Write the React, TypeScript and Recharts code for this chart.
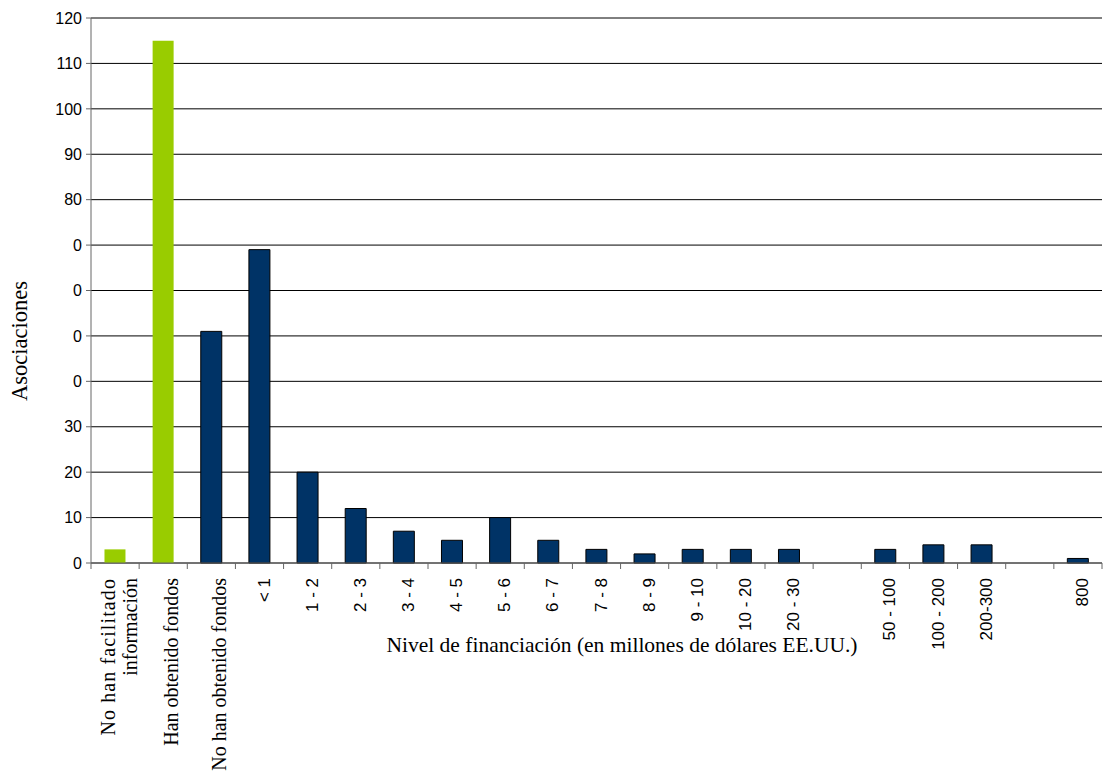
import React from 'react';
import { BarChart, Bar, XAxis, YAxis, CartesianGrid, Cell } from 'recharts';

const categories = [
  'No han facilitado información',
  'Han obtenido fondos',
  'No han obtenido fondos',
  '< 1',
  '1 - 2',
  '2 - 3',
  '3 - 4',
  '4 - 5',
  '5 - 6',
  '6 - 7',
  '7 - 8',
  '8 - 9',
  '9 - 10',
  '10 - 20',
  '20 - 30',
  '',
  '50 - 100',
  '100 - 200',
  '200-300',
  '',
  '800',
];
const associations = [3, 115, 51, 69, 20, 12, 7, 5, 10, 5, 3, 2, 3, 3, 3, 0, 3, 4, 4, 0, 1];
const greenBars = [0, 1];
const yTicks = [0, 10, 20, 30, 40, 50, 60, 70, 80, 90, 100, 110, 120];
const yTickLabels = ['0', '10', '20', '30', '0', '0', '0', '0', '80', '90', '100', '110', '120'];
const serifLabels = [0, 1, 2];

const W = 1104;
const H = 774;
const LEFT = 91;
const RIGHT = 2;
const TOP = 18;
const AXIS_Y = 563;
const STEP = (W - LEFT - RIGHT) / categories.length;

const data = associations.map((v, i) => ({ id: i, value: v }));

const SANS = '"Liberation Sans", Arial, sans-serif';
const SERIF = '"Liberation Serif", "Times New Roman", serif';

function CategoryTick(props: any) {
  const { x, payload } = props;
  const i = payload.value as number;
  const label = categories[i];
  const y0 = AXIS_Y;
  const serif = serifLabels.includes(i);
  const lines = i === 0 ? ['No han facilitado', 'información'] : [label];
  return (
    <g>
      <line x1={x - STEP / 2} x2={x - STEP / 2} y1={y0} y2={y0 + 6} stroke="#666" />
      {i === categories.length - 1 && (
        <line x1={x + STEP / 2} x2={x + STEP / 2} y1={y0} y2={y0 + 6} stroke="#666" />
      )}
      {lines.map((t, k) => {
        // baseline sits on the right of the rotated glyphs
        const bx = serif ? x + (lines.length > 1 ? k * 22 : 15) : x + 10;
        const by = y0 + 15;
        return (
          <text
            key={k}
            x={bx}
            y={by}
            transform={`rotate(-90 ${bx} ${by})`}
            textAnchor="end"
            fontFamily={serif ? SERIF : SANS}
            fontSize={serif ? 20 : 17}
            letterSpacing={lines.length > 1 && k === 0 ? 1.1 : 0}
            fill="#000"
          >
            {t}
          </text>
        );
      })}
    </g>
  );
}

export default function App() {
  return (
    <div style={{ width: W, height: H, background: '#fff' }}>
      <style>{'body{margin:0}'}</style>
      <BarChart
        width={W}
        height={H}
        data={data}
        margin={{ top: TOP, right: RIGHT, left: 0, bottom: 0 }}
        barCategoryGap="28%"
      >
        <CartesianGrid vertical={false} stroke="#000" />
        <XAxis
          dataKey="id"
          type="category"
          height={H - AXIS_Y}
          tickLine={false}
          tickSize={0}
          tickMargin={0}
          interval={0}
          axisLine={{ stroke: '#666' }}
          tick={<CategoryTick />}
          label={{
            content: () => (
              <text x={622} y={652} textAnchor="middle" fontFamily={SERIF} fontSize={21.5} fill="#000">
                Nivel de financiación (en millones de dólares EE.UU.)
              </text>
            ),
          }}
        />
        <YAxis
          width={LEFT}
          domain={[0, 120]}
          ticks={yTicks}
          interval={0}
          tickSize={5}
          tickMargin={4}
          tickLine={{ stroke: '#666' }}
          axisLine={{ stroke: '#666' }}
          tick={{ fontFamily: SANS, fontSize: 16, fill: '#000' }}
          tickFormatter={(v: number) => yTickLabels[yTicks.indexOf(v)]}
          label={{
            content: () => (
              <text
                x={27}
                y={341}
                transform="rotate(-90 27 341)"
                textAnchor="middle"
                fontFamily={SERIF}
                fontSize={22.5}
                fill="#000"
              >
                Asociaciones
              </text>
            ),
          }}
        />
        <Bar dataKey="value" isAnimationActive={false}>
          {data.map((d) => (
            <Cell
              key={d.id}
              fill={greenBars.includes(d.id) ? '#99cc00' : '#003366'}
              stroke={greenBars.includes(d.id) ? 'none' : '#000'}
              strokeWidth={1}
            />
          ))}
        </Bar>
      </BarChart>
    </div>
  );
}
